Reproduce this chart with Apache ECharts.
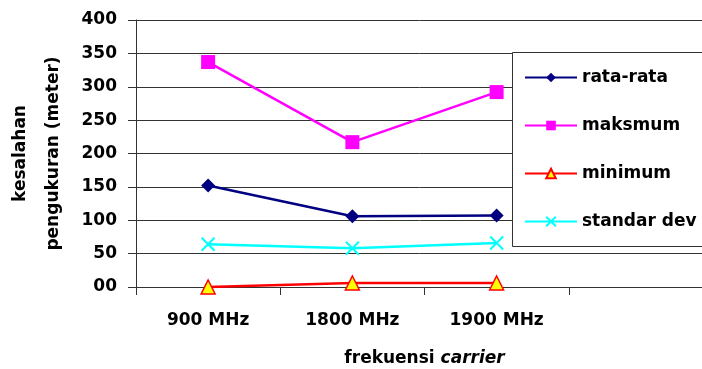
<!DOCTYPE html>
<html>
<head>
<meta charset="utf-8">
<script src="https://cdn.jsdelivr.net/npm/echarts@6/dist/echarts.min.js"></script>
<style>
html,body{margin:0;padding:0;background:#fff;}
#chart{width:702px;height:369px;}
</style>
</head>
<body>
<div id="chart"></div>
<script>
var categories = ['900 MHz', '1800 MHz', '1900 MHz', ''];
var yTickLabels = ['00', '50', '100', '150', '200', '250', '300', '350', '400'];
var rataRata = [152, 106, 107];
var maksmum = [337, 217, 292];
var minimum = [0, 6, 6];
var standarDev = [64, 58, 66];
var seriesNames = ['rata-rata', 'maksmum', 'minimum', 'standar dev'];

var FONT = '"DejaVu Sans"';
var FS = 17;
var chart = echarts.init(document.getElementById('chart'), null, {renderer: 'canvas'});
var crossPath = 'path://M0,0L10,10M10,0L0,10';

var option = {
  animation: false,
  backgroundColor: '#fff',
  textStyle: {fontFamily: FONT, fontWeight: 'bold', color: '#000'},
  grid: {left: 136, top: 20, right: -11, bottom: 82, containLabel: false, outerBoundsMode: 'none'},
  graphic: [{
    type: 'rect', z: 5,
    shape: {x: 512.5, y: 52.5, width: 200, height: 194},
    style: {fill: '#fff', stroke: '#333', lineWidth: 1}
  }],
  legend: {
    z: 6,
    orient: 'vertical',
    left: 513, top: 53,
    padding: [16, 0, 0, 11],
    itemWidth: 52, itemHeight: 12,
    itemGap: 31,
    itemTextGap: 6,
    textStyle: {fontFamily: FONT, fontWeight: 'bold', fontSize: FS, color: '#000', lineHeight: 12},
    data: seriesNames
  },
  xAxis: {
    type: 'category',
    data: categories,
    boundaryGap: true,
    axisLine: {lineStyle: {color: '#333', width: 1}},
    axisTick: {show: true, length: 8, inside: false, lineStyle: {color: '#333'}},
    axisLabel: {fontFamily: FONT, fontWeight: 'bold', fontSize: FS, color: '#000', margin: 25},
    name: '{a|frekuensi }{b|carrier}',
    nameLocation: 'middle',
    nameGap: 63,
    nameTextStyle: {
      rich: {
        a: {fontFamily: FONT, fontWeight: 'bold', fontSize: FS, color: '#000'},
        b: {fontFamily: FONT, fontWeight: 'bold', fontStyle: 'italic', fontSize: FS, color: '#000'}
      }
    }
  },
  yAxis: {
    type: 'value',
    min: 0, max: 400, interval: 50,
    axisLine: {show: true, lineStyle: {color: '#333', width: 1}},
    axisTick: {show: true, length: 8, lineStyle: {color: '#333'}},
    splitLine: {show: true, lineStyle: {color: '#333', width: 1}},
    axisLabel: {
      fontFamily: FONT, fontWeight: 'bold', fontSize: FS, color: '#000', margin: 19,
      formatter: function (v) { return yTickLabels[Math.round(v / 50)]; }
    },
    name: 'kesalahan\npengukuran (meter)',
    nameLocation: 'middle',
    nameRotate: 90,
    nameGap: 66,
    nameTextStyle: {fontFamily: FONT, fontWeight: 'bold', fontSize: FS, color: '#000', lineHeight: 33}
  },
  series: [
    {
      name: seriesNames[0], type: 'line', data: rataRata, clip: false,
      symbol: 'diamond', symbolSize: 14,
      lineStyle: {color: '#000080', width: 2.5},
      itemStyle: {color: '#000080'}
    },
    {
      name: seriesNames[1], type: 'line', data: maksmum, clip: false,
      symbol: 'rect', symbolSize: 14,
      lineStyle: {color: '#FF00FF', width: 2.5},
      itemStyle: {color: '#FF00FF'}
    },
    {
      name: seriesNames[2], type: 'line', data: minimum, clip: false,
      symbol: 'triangle', symbolSize: 14,
      lineStyle: {color: '#FF0000', width: 2.5},
      itemStyle: {color: '#FFFF00', borderColor: '#FF0000', borderWidth: 1.5}
    },
    {
      name: seriesNames[3], type: 'line', data: standarDev, clip: false,
      symbol: crossPath, symbolSize: 13,
      lineStyle: {color: '#00FFFF', width: 2.5},
      itemStyle: {color: '#00FFFF', borderColor: '#00FFFF', borderWidth: 2}
    }
  ]
};
chart.setOption(option);
</script>
</body>
</html>
